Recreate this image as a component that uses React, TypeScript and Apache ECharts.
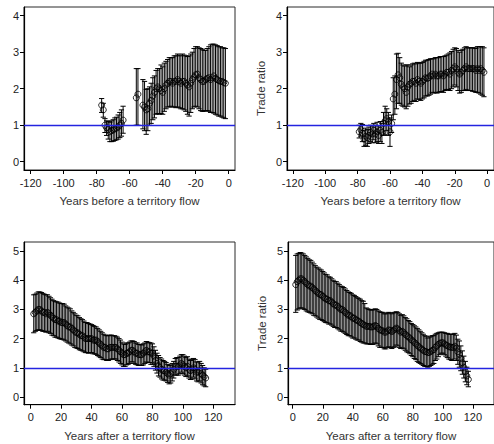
import React, { useEffect, useRef } from "react";
import * as echarts from "echarts";

// ---------- Panel 1: years before a territory flow (left) ----------
const P1_YEARS = [-77,-76,-75,-74,-73,-72,-71,-70,-69,-68,-67,-66,-65,-64,-56,-55,-52,-51,-50,-49,-48,-47,-46,-45,-44,-43,-42,-41,-40,-39,-38,-37,-36,-35,-34,-33,-32,-31,-30,-29,-28,-27,-26,-25,-24,-23,-22,-21,-20,-19,-18,-17,-16,-15,-14,-13,-12,-11,-10,-9,-8,-7,-6,-5,-4,-3,-2];
const P1_MEAN = [1.55,1.42,1.0,0.93,0.88,0.82,0.85,0.87,0.9,0.92,0.95,1.0,1.05,1.14,1.75,1.85,
  1.55,1.5,1.42,1.45,1.6,1.68,1.8,1.9,2.0,2.05,2.0,1.95,1.9,2.0,2.1,2.15,2.2,2.2,2.15,2.2,2.2,2.25,2.2,2.15,2.2,2.2,2.15,2.1,2.05,2.15,2.25,2.32,2.38,2.4,2.3,2.25,2.2,2.2,2.25,2.28,2.3,2.25,2.3,2.35,2.28,2.25,2.22,2.2,2.2,2.17,2.15];
const P1_HI = [1.73,1.6,1.18,1.12,1.1,1.08,1.12,1.15,1.2,1.22,1.28,1.35,1.42,1.52,2.55,2.55,
  2.25,2.2,1.98,2.0,2.05,2.15,2.3,2.35,2.5,2.55,2.55,2.65,2.6,2.7,2.75,2.8,2.85,2.85,2.85,2.9,2.9,2.95,2.92,2.9,2.95,2.92,2.9,2.88,2.9,2.95,3.0,3.1,3.15,3.15,3.12,3.1,3.08,3.05,3.05,3.1,3.15,3.2,3.22,3.22,3.2,3.18,3.15,3.15,3.12,3.12,3.1];
const P1_LO = [1.35,1.22,0.8,0.72,0.62,0.55,0.55,0.56,0.58,0.6,0.62,0.66,0.7,0.78,1.0,1.0,
  0.9,0.85,0.75,0.85,1.0,1.05,1.15,1.2,1.3,1.32,1.3,1.32,1.3,1.38,1.45,1.5,1.5,1.52,1.5,1.5,1.48,1.5,1.48,1.45,1.45,1.42,1.38,1.3,1.25,1.35,1.45,1.5,1.52,1.5,1.45,1.4,1.38,1.38,1.4,1.4,1.38,1.35,1.35,1.33,1.3,1.28,1.25,1.25,1.22,1.2,1.18];

// ---------- Panel 2: years before a territory flow (right) ----------
const P2_YEARS = [-79,-78,-77,-76,-75,-74,-73,-72,-71,-70,-69,-68,-67,-66,-65,-64,-63,-62,-61,-60,-59,-58,-57,-56,-55,-54,-53,-52,-51,-50,-49,-48,-47,-46,-45,-44,-43,-42,-41,-40,-39,-38,-37,-36,-35,-34,-33,-32,-31,-30,-29,-28,-27,-26,-25,-24,-23,-22,-21,-20,-19,-18,-17,-16,-15,-14,-13,-12,-11,-10,-9,-8,-7,-6,-5,-4,-3,-2];
const P2_MEAN = [0.82,0.88,0.78,0.62,0.7,0.66,0.72,0.8,0.76,0.86,0.76,0.82,0.72,0.86,0.8,1.05,1.12,1.18,1.1,0.82,1.05,
  1.72,1.85,2.25,2.38,2.3,2.12,2.05,2.0,1.9,2.05,2.12,2.15,2.2,2.2,2.15,2.25,2.2,2.15,2.2,2.25,2.3,2.28,2.3,2.35,2.4,2.35,2.4,2.35,2.35,2.4,2.4,2.35,2.4,2.45,2.45,2.4,2.5,2.55,2.6,2.55,2.45,2.4,2.45,2.5,2.55,2.6,2.55,2.55,2.55,2.55,2.55,2.5,2.55,2.5,2.55,2.5,2.45];
const P2_HI = [1.0,1.05,1.02,0.85,0.92,0.88,0.95,1.0,0.98,1.05,1.0,1.08,0.98,1.1,1.05,1.35,1.52,1.45,1.35,1.2,1.28,
  2.3,2.35,2.95,2.97,2.85,2.7,2.65,2.62,2.65,2.65,2.6,2.65,2.68,2.7,2.68,2.72,2.7,2.7,2.72,2.75,2.78,2.78,2.8,2.82,2.82,2.82,2.85,2.85,2.85,2.88,2.88,2.88,2.9,2.92,2.95,2.98,3.02,3.08,3.12,3.1,3.05,3.0,3.05,3.08,3.12,3.15,3.12,3.12,3.12,3.12,3.12,3.1,3.15,3.15,3.15,3.15,3.12];
const P2_LO = [0.65,0.7,0.55,0.42,0.45,0.42,0.5,0.55,0.52,0.6,0.52,0.55,0.5,0.55,0.5,0.72,0.75,0.85,0.72,0.42,0.8,
  1.15,1.3,1.45,1.6,1.6,1.55,1.52,1.5,1.45,1.52,1.58,1.6,1.65,1.68,1.65,1.72,1.7,1.68,1.72,1.75,1.8,1.8,1.82,1.85,1.9,1.88,1.9,1.88,1.9,1.92,1.92,1.9,1.95,1.98,1.98,1.95,2.0,2.05,2.1,2.05,1.95,1.88,1.9,1.95,1.95,1.98,1.95,1.95,1.95,1.93,1.92,1.9,1.9,1.88,1.85,1.82,1.78];

// ---------- Panel 3: years after a territory flow (left) ----------
const P3_YEARS = [2,3,4,5,6,7,8,9,10,11,12,13,14,15,16,17,18,19,20,21,22,23,24,25,26,27,28,29,30,31,32,33,34,35,36,37,38,39,40,41,42,43,44,45,46,47,48,49,50,51,52,53,54,55,56,57,58,59,60,61,62,63,64,65,66,67,68,69,70,71,72,73,74,75,76,77,78,79,80,81,82,83,84,85,86,87,88,89,90,91,92,93,94,95,96,97,98,99,100,101,102,103,104,105,106,107,108,109,110,111,112,113,114,115];
const P3_MEAN = [2.85,2.9,2.95,3.0,3.0,2.95,2.9,2.9,2.85,2.9,
  2.85,2.8,2.75,2.7,2.65,2.65,2.6,2.6,2.55,2.55,
  2.55,2.5,2.45,2.4,2.4,2.35,2.3,2.25,2.2,2.2,
  2.15,2.1,2.1,2.05,2.0,2.0,2.0,2.0,2.0,1.95,
  1.95,1.95,1.9,1.85,1.8,1.75,1.7,1.7,1.65,1.65,
  1.7,1.7,1.7,1.7,1.7,1.65,1.6,1.55,1.5,1.45,
  1.45,1.5,1.5,1.55,1.6,1.6,1.55,1.5,1.5,1.45,
  1.45,1.45,1.5,1.55,1.6,1.55,1.55,1.5,1.5,1.4,
  1.25,1.15,1.05,1.0,0.95,0.9,0.9,0.85,0.8,0.75,
  0.8,0.85,0.95,1.05,1.05,1.05,1.1,1.15,1.1,1.05,
  1.0,1.05,0.95,0.9,0.95,1.0,0.95,0.85,0.85,0.9,
  0.8,0.75,0.7,0.65];
const P3_HI = [3.5,3.52,3.56,3.6,3.6,3.58,3.55,3.52,3.5,3.5,
  3.45,3.4,3.35,3.3,3.28,3.26,3.25,3.22,3.2,3.2,
  3.18,3.12,3.08,3.05,3.02,2.95,2.9,2.85,2.8,2.78,
  2.72,2.68,2.65,2.6,2.55,2.55,2.52,2.5,2.48,2.45,
  2.42,2.4,2.35,2.3,2.25,2.2,2.15,2.12,2.1,2.1,
  2.12,2.12,2.1,2.1,2.08,2.05,2.0,1.95,1.88,1.82,
  1.8,1.85,1.85,1.88,1.92,1.92,1.9,1.85,1.85,1.8,
  1.8,1.78,1.82,1.85,1.9,1.88,1.86,1.85,1.82,1.72,
  1.6,1.5,1.42,1.35,1.3,1.25,1.22,1.18,1.12,1.08,
  1.1,1.15,1.22,1.32,1.35,1.35,1.4,1.45,1.45,1.4,
  1.35,1.38,1.3,1.25,1.28,1.32,1.28,1.2,1.2,1.22,
  1.15,1.08,1.0,0.95];
const P3_LO = [2.2,2.25,2.28,2.3,2.3,2.28,2.25,2.25,2.22,2.25,
  2.2,2.18,2.12,2.1,2.05,2.05,2.02,2.0,1.98,1.98,
  1.95,1.92,1.88,1.85,1.82,1.78,1.75,1.7,1.68,1.66,
  1.62,1.6,1.58,1.55,1.52,1.52,1.5,1.52,1.52,1.48,
  1.48,1.46,1.42,1.38,1.35,1.3,1.28,1.28,1.25,1.25,
  1.28,1.3,1.3,1.3,1.3,1.25,1.2,1.15,1.1,1.05,
  1.05,1.1,1.12,1.15,1.2,1.2,1.15,1.12,1.1,1.08,
  1.08,1.08,1.1,1.15,1.2,1.18,1.18,1.12,1.12,1.05,
  0.92,0.82,0.72,0.68,0.62,0.58,0.58,0.55,0.5,0.45,
  0.48,0.55,0.65,0.75,0.75,0.75,0.8,0.85,0.8,0.75,
  0.7,0.72,0.65,0.6,0.62,0.68,0.62,0.55,0.52,0.55,
  0.48,0.42,0.38,0.35];

// ---------- Panel 4: years after a territory flow (right) ----------
const P4_YEARS = [2,3,4,5,6,7,8,9,10,11,12,13,14,15,16,17,18,19,20,21,22,23,24,25,26,27,28,29,30,31,32,33,34,35,36,37,38,39,40,41,42,43,44,45,46,47,48,49,50,51,52,53,54,55,56,57,58,59,60,61,62,63,64,65,66,67,68,69,70,71,72,73,74,75,76,77,78,79,80,81,82,83,84,85,86,87,88,89,90,91,92,93,94,95,96,97,98,99,100,101,102,103,104,105,106,107,108,109,110,111,112,113,114,115,116,117];
const P4_MEAN = [3.85,3.95,4.0,4.05,4.05,4.0,3.95,3.9,3.85,3.8,
  3.8,3.75,3.7,3.65,3.6,3.55,3.52,3.5,3.45,3.4,
  3.36,3.35,3.3,3.3,3.25,3.2,3.15,3.15,3.1,3.05,
  3.0,3.0,2.95,2.9,2.85,2.8,2.8,2.75,2.7,2.7,
  2.65,2.62,2.6,2.55,2.52,2.48,2.46,2.42,2.42,2.42,
  2.4,2.4,2.42,2.45,2.42,2.35,2.3,2.28,2.27,2.22,
  2.22,2.26,2.3,2.28,2.24,2.28,2.32,2.36,2.33,2.28,
  2.22,2.25,2.2,2.15,2.1,2.06,2.02,1.96,1.92,1.87,
  1.82,1.77,1.72,1.68,1.64,1.6,1.56,1.55,1.52,1.53,
  1.56,1.6,1.62,1.7,1.75,1.8,1.84,1.86,1.86,1.82,
  1.78,1.76,1.72,1.71,1.7,1.7,1.74,1.68,1.55,1.46,
  1.32,1.17,1.02,0.87,0.72,0.6];
const P4_HI = [4.85,4.9,4.92,4.95,4.93,4.9,4.85,4.8,4.75,4.7,
  4.68,4.62,4.56,4.5,4.45,4.42,4.38,4.35,4.3,4.25,
  4.2,4.18,4.12,4.1,4.05,4.0,3.96,3.95,3.9,3.85,
  3.8,3.78,3.75,3.7,3.65,3.6,3.58,3.55,3.5,3.48,
  3.44,3.4,3.38,3.35,3.3,3.28,3.2,3.05,3.02,3.0,
  2.98,2.98,3.0,3.02,3.0,2.95,2.92,2.9,2.9,2.85,
  2.85,2.88,2.9,2.88,2.85,2.88,2.9,2.92,2.9,2.85,
  2.8,2.82,2.78,2.72,2.68,2.62,2.58,2.52,2.48,2.44,
  2.4,2.35,2.3,2.25,2.2,2.15,2.1,2.08,2.02,2.05,
  2.08,2.1,2.1,2.15,2.18,2.2,2.22,2.22,2.22,2.2,
  2.18,2.18,2.15,2.15,2.15,2.15,2.18,2.12,1.98,1.92,
  1.75,1.58,1.4,1.22,1.02,0.88];
const P4_LO = [2.9,2.98,3.02,3.05,3.05,3.02,3.0,2.95,2.92,2.9,
  2.88,2.85,2.8,2.78,2.74,2.7,2.66,2.65,2.62,2.58,
  2.55,2.54,2.5,2.5,2.46,2.42,2.38,2.38,2.34,2.3,
  2.26,2.25,2.22,2.18,2.14,2.1,2.1,2.06,2.02,2.02,
  1.98,1.95,1.95,1.9,1.88,1.85,1.85,1.82,1.82,1.82,
  1.8,1.8,1.82,1.85,1.82,1.75,1.7,1.7,1.7,1.65,
  1.65,1.7,1.72,1.7,1.66,1.7,1.72,1.78,1.75,1.7,
  1.66,1.68,1.65,1.6,1.55,1.52,1.48,1.42,1.38,1.32,
  1.28,1.22,1.18,1.15,1.12,1.08,1.05,1.05,1.02,1.05,
  1.08,1.12,1.15,1.25,1.3,1.38,1.45,1.5,1.5,1.45,
  1.4,1.35,1.3,1.28,1.25,1.25,1.3,1.25,1.12,1.02,
  0.9,0.78,0.65,0.52,0.42,0.35];

// ---------- Axis ticks & labels ----------
const X_TICKS_BEFORE = [-120, -100, -80, -60, -40, -20, 0];
const X_TICKS_AFTER = [0, 20, 40, 60, 80, 100, 120];
const Y_TICKS_TOP = [0, 1, 2, 3, 4];
const Y_TICKS_BOTTOM = [0, 1, 2, 3, 4, 5];
const X_TITLE_BEFORE = "Years before a territory flow";
const X_TITLE_AFTER = "Years after a territory flow";
const Y_TITLE = "Trade ratio";
const REFERENCE_LINE = 1;

const NARROW = "'Liberation Sans Narrow', 'Arial Narrow', 'Liberation Sans', sans-serif";
const SANS = "'Liberation Sans', Arial, sans-serif";

type Panel = {
  years: number[]; mean: number[]; lo: number[]; hi: number[];
  grid: { left: number; top: number; width: number; height: number };
  xMin: number; xMax: number; yMin: number; yMax: number;
  xTicks: number[]; yTicks: number[]; xTitle: string; yTitle: string;
};

const PANELS: Panel[] = [
  { years: P1_YEARS, mean: P1_MEAN, lo: P1_LO, hi: P1_HI,
    grid: { left: 24, top: 7, width: 211, height: 163 },
    xMin: -124.06, xMax: 3.82, yMin: -0.227, yMax: 4.238,
    xTicks: X_TICKS_BEFORE, yTicks: Y_TICKS_TOP, xTitle: X_TITLE_BEFORE, yTitle: "" },
  { years: P2_YEARS, mean: P2_MEAN, lo: P2_LO, hi: P2_HI,
    grid: { left: 287, top: 7, width: 212, height: 163 },
    xMin: -123.6, xMax: 4.22, yMin: -0.227, yMax: 4.238,
    xTicks: X_TICKS_BEFORE, yTicks: Y_TICKS_TOP, xTitle: X_TITLE_BEFORE, yTitle: Y_TITLE },
  { years: P3_YEARS, mean: P3_MEAN, lo: P3_LO, hi: P3_HI,
    grid: { left: 24, top: 242, width: 211, height: 162.7 },
    xMin: -4.4, xMax: 134.26, yMin: -0.264, yMax: 5.31,
    xTicks: X_TICKS_AFTER, yTicks: Y_TICKS_BOTTOM, xTitle: X_TITLE_AFTER, yTitle: "" },
  { years: P4_YEARS, mean: P4_MEAN, lo: P4_LO, hi: P4_HI,
    grid: { left: 288, top: 242, width: 217, height: 162.7 },
    xMin: -3.16, xMax: 134.1, yMin: -0.264, yMax: 5.31,
    xTicks: X_TICKS_AFTER, yTicks: Y_TICKS_BOTTOM, xTitle: X_TITLE_AFTER, yTitle: Y_TITLE },
];

function buildOption() {
  const grid: any[] = [];
  const xAxis: any[] = [];
  const yAxis: any[] = [];
  const series: any[] = [];

  PANELS.forEach((p, i) => {
    grid.push({ ...p.grid, show: true, borderColor: "#2a2a2a", borderWidth: 1, backgroundColor: "#fff", containLabel: false });
    xAxis.push({
      gridIndex: i, type: "value", min: p.xMin, max: p.xMax,
      name: p.xTitle, nameLocation: "middle", nameGap: 25,
      nameTextStyle: { fontFamily: NARROW, fontSize: 11.5, color: "#333" },
      axisLine: { show: true, onZero: false, lineStyle: { color: "#000", width: 1.2 } },
      axisTick: { show: true, length: 4, customValues: p.xTicks, lineStyle: { color: "#000", width: 1 } },
      axisLabel: { customValues: p.xTicks, margin: 7, fontFamily: NARROW, fontSize: 11, color: "#222",
        formatter: (v: number) => String(v) },
      splitLine: { show: false },
    });
    yAxis.push({
      gridIndex: i, type: "value", min: p.yMin, max: p.yMax,
      name: p.yTitle, nameLocation: "middle", nameGap: 20, nameRotate: 90,
      nameTextStyle: { fontFamily: SANS, fontSize: 11.5, color: "#333" },
      axisLine: { show: true, onZero: false, lineStyle: { color: "#000", width: 1.2 } },
      axisTick: { show: true, length: 4, customValues: p.yTicks, lineStyle: { color: "#000", width: 1 } },
      axisLabel: { customValues: p.yTicks, margin: 5, fontFamily: NARROW, fontSize: 11, color: "#222",
        formatter: (v: number) => String(v) },
      splitLine: { show: false },
    });

    const barData = p.years.map((y, k) => [y, p.lo[k], p.hi[k]]);
    series.push({
      type: "custom", xAxisIndex: i, yAxisIndex: i, z: 2,
      data: barData, encode: { x: 0, y: [1, 2] },
      renderItem: (params: any, api: any) => {
        const x = api.value(0);
        const a = api.coord([x, api.value(1)]);
        const b = api.coord([x, api.value(2)]);
        const w = 2.6;
        const st = { stroke: "#000", lineWidth: 1 };
        return {
          type: "group",
          children: [
            { type: "line", shape: { x1: a[0], y1: a[1], x2: b[0], y2: b[1] }, style: st },
            { type: "line", shape: { x1: a[0] - w, y1: a[1], x2: a[0] + w, y2: a[1] }, style: st },
            { type: "line", shape: { x1: b[0] - w, y1: b[1], x2: b[0] + w, y2: b[1] }, style: st },
          ],
        };
      },
    });
    series.push({
      type: "scatter", xAxisIndex: i, yAxisIndex: i, z: 3,
      data: p.years.map((y, k) => [y, p.mean[k]]),
      symbol: "circle", symbolSize: 6,
      itemStyle: { color: "rgba(0,0,0,0)", borderColor: "#000", borderWidth: 1 },
      markLine: {
        silent: true, symbol: ["none", "none"], label: { show: false },
        lineStyle: { color: "#2424e0", width: 1.4, type: "solid" },
        data: [{ yAxis: REFERENCE_LINE }],
        z: 5,
      },
    });
  });

  return { animation: false, backgroundColor: "#fff", grid, xAxis, yAxis, series };
}

export default function App() {
  const ref = useRef<HTMLDivElement>(null);
  useEffect(() => {
    if (!ref.current) return;
    const chart = echarts.init(ref.current, undefined, { renderer: "svg" });
    chart.setOption(buildOption() as any);
    return () => chart.dispose();
  }, []);
  return (
    <div
      ref={ref}
      style={{ position: "fixed", left: 0, top: 0, width: 494, height: 444, background: "#fff" }}
    />
  );
}
